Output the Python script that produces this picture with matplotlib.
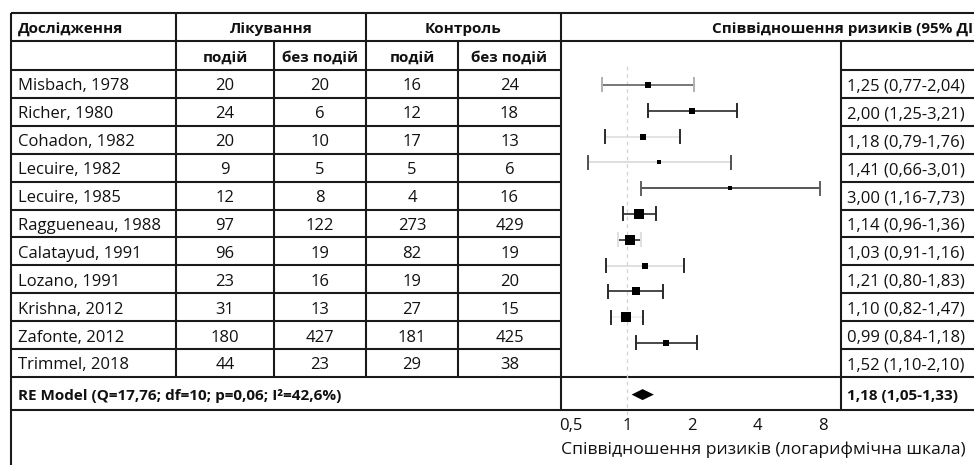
import matplotlib
matplotlib.use("Agg")
import matplotlib.pyplot as plt
import matplotlib.transforms as mtransforms
import numpy as np

# ---------------- data ----------------
studies = ["Misbach, 1978", "Richer, 1980", "Cohadon, 1982", "Lecuire, 1982",
           "Lecuire, 1985", "Raggueneau, 1988", "Calatayud, 1991", "Lozano, 1991",
           "Krishna, 2012", "Zafonte, 2012", "Trimmel, 2018"]
treat_events = [20, 24, 20, 9, 12, 97, 96, 23, 31, 180, 44]
treat_none = [20, 6, 10, 5, 8, 122, 19, 16, 13, 427, 23]
ctrl_events = [16, 12, 17, 5, 4, 273, 82, 19, 27, 181, 29]
ctrl_none = [24, 18, 13, 6, 16, 429, 19, 20, 15, 425, 38]
rr = [1.25, 2.00, 1.18, 1.41, 3.00, 1.14, 1.03, 1.21, 1.10, 0.99, 1.52]
rr_lo = [0.77, 1.25, 0.79, 0.66, 1.16, 0.96, 0.91, 0.80, 0.82, 0.84, 1.10]
rr_hi = [2.04, 3.21, 1.76, 3.01, 7.73, 1.36, 1.16, 1.83, 1.47, 1.18, 2.10]
weights = [4.3, 4.6, 6.0, 2.0, 1.3, 17.5, 22.5, 5.8, 9.7, 17.8, 8.4]
re_rr, re_lo, re_hi = 1.18, 1.05, 1.33
re_label = "RE Model (Q=17,76; df=10; p=0,06; I²=42,6%)"
x_ticks = [0.5, 1, 2, 4, 8]
x_ticklabels = ["0,5", "1", "2", "4", "8"]
x_label = "Співвідношення ризиків (логарифмічна шкала)"
hdr_study = "Дослідження"
hdr_treat = "Лікування"
hdr_ctrl = "Контроль"
hdr_rr = "Співвідношення ризиків (95% ДІ)"
hdr_events = "подій"
hdr_none = "без подій"

# ---------------- style ----------------
plt.rcParams['font.family'] = ['Open Sans', 'DejaVu Sans']
FS = 12
FSB = 11
TXT = '#111111'
LINE = '#1a1a1a'
LW = 1.5
ci_colors = ['#606060', '#2a2a2a', '#dedede', '#d8d8d8', '#3a3a3a', '#2a2a2a',
             '#2a2a2a', '#dadada', '#2a2a2a', '#eeeeee', '#2a2a2a']
cap_colors = ['#b0b0b0', '#2a2a2a', '#2a2a2a', '#505050', '#606060', '#2a2a2a',
              '#e0e0e0', '#2a2a2a', '#2a2a2a', '#2a2a2a', '#2a2a2a']

W, H = 974, 465
fig = plt.figure(figsize=(W / 100, H / 100), dpi=100)
bg = fig.add_axes([0, 0, 1, 1])
bg.set_xlim(0, W)
bg.set_ylim(H, 0)
bg.axis('off')

col_x = [11, 176, 274, 366, 458, 561, 841, 1129]
y_top, y_h1, y_h2 = 13, 41, 70
row_h = 27.9
n = len(studies)
y_data_bot = y_h2 + n * row_h
y_re_bot = 410

def hl(y, x0, x1):
    bg.plot([x0, x1], [y, y], color=LINE, lw=LW, solid_capstyle='butt')

def vl(x, y0, y1):
    bg.plot([x, x], [y0, y1], color=LINE, lw=LW, solid_capstyle='butt')

hl(y_top, col_x[0], col_x[-1])
hl(y_h1, col_x[0], col_x[-1])
for i in range(n):
    y = y_h2 + i * row_h
    hl(y, col_x[0], col_x[5])
    hl(y, col_x[6], col_x[-1])
hl(y_data_bot, col_x[0], col_x[-1])
hl(y_re_bot, col_x[0], col_x[-1])
vl(col_x[0], y_top, H)
vl(col_x[1], y_top, y_data_bot)
vl(col_x[2], y_h1, y_data_bot)
vl(col_x[3], y_top, y_data_bot)
vl(col_x[4], y_h1, y_data_bot)
vl(col_x[5], y_top, y_re_bot)
vl(col_x[6], y_h1, y_re_bot)

BOFF = 6.5  # baseline offset from row centre

def cell_text(x, yc, s, ha='center', bold=False):
    bg.text(x, yc + BOFF, s, ha=ha, va='baseline', fontsize=FSB if bold else FS, color=TXT,
            fontweight='bold' if bold else 'normal', clip_on=True)

def mid(a, b):
    return (a + b) / 2

pad = 7
# header row 1
yc = mid(y_top, y_h1)
cell_text(col_x[0] + pad, yc, hdr_study, ha='left', bold=True)
cell_text(mid(col_x[1], col_x[3]), yc, hdr_treat, bold=True)
cell_text(mid(col_x[3], col_x[5]), yc, hdr_ctrl, bold=True)
cell_text(mid(col_x[5], col_x[7]), yc, hdr_rr, bold=True)
# header row 2
yc = mid(y_h1, y_h2)
for k, s in enumerate([hdr_events, hdr_none, hdr_events, hdr_none]):
    cell_text(mid(col_x[1 + k], col_x[2 + k]), yc, s, bold=True)

def fmt(v):
    return f"{v:.2f}".replace('.', ',')

for i in range(n):
    yc = y_h2 + (i + 0.5) * row_h
    cell_text(col_x[0] + pad, yc, studies[i], ha='left')
    for k, arr in enumerate([treat_events, treat_none, ctrl_events, ctrl_none]):
        cell_text(mid(col_x[1 + k], col_x[2 + k]), yc, str(arr[i]))
    cell_text(col_x[6] + 6, yc, f"{fmt(rr[i])} ({fmt(rr_lo[i])}-{fmt(rr_hi[i])})", ha='left')

yc = mid(y_data_bot, y_re_bot)
cell_text(col_x[0] + pad, yc, re_label, ha='left', bold=True)
cell_text(col_x[6] + 6, yc, f"{fmt(re_rr)} ({fmt(re_lo)}-{fmt(re_hi)})", ha='left', bold=True)

# ---------------- forest plot ----------------
x_one = 627.0      # pixel of RR = 1
px_per_doubling = 65.3
y_first, px_per_row = 85.0, 25.8
ax_top, ax_bot = 63, 415
ax = fig.add_axes([col_x[5] / W, 1 - ax_bot / H, (col_x[6] - col_x[5]) / W, (ax_bot - ax_top) / H])
ax.patch.set_visible(False)
ax.set_xscale('log', base=2)
ax.set_xlim(2 ** ((col_x[5] - x_one) / px_per_doubling), 2 ** ((col_x[6] - x_one) / px_per_doubling))
ax.set_ylim(n - (ax_bot - y_first) / px_per_row, n + (y_first - ax_top) / px_per_row)
for s in ax.spines.values():
    s.set_visible(False)
ax.xaxis.set_minor_locator(matplotlib.ticker.NullLocator())
ax.set_xticks(x_ticks)
ax.set_xticklabels(x_ticklabels, fontsize=FS, color=TXT)
ax.tick_params(axis='x', length=0, pad=2.5)
first = ax.get_xticklabels()[0]
first.set_ha('left')
first.set_transform(first.get_transform() + mtransforms.ScaledTranslation(-3 / 100, 0, fig.dpi_scale_trans))
ax.set_yticks([])
ax.set_xlabel(x_label, loc='left', fontsize=12.6, color=TXT, labelpad=5)

ax.axvline(1, color='#d2d2d2', lw=0.9, ls=(0, (3, 3)), zorder=1)

cap = 6.5 / px_per_row
for i in range(n):
    y = n - i
    ax.plot([rr_lo[i], rr_hi[i]], [y, y], color=ci_colors[i], lw=1.2, zorder=2)
    for xv in (rr_lo[i], rr_hi[i]):
        ax.plot([xv, xv], [y - cap, y + cap], color=cap_colors[i], lw=1.4, zorder=2)
    size_px = 2 + 1.7 * np.sqrt(weights[i])
    ax.plot([rr[i]], [y], marker='s', ms=size_px * 0.72, color='black', mec='black', mew=0, zorder=3)

dh = 5.5 / px_per_row
ax.fill([re_lo, re_rr, re_hi, re_rr], [-1, -1 + dh, -1, -1 - dh], color='black', zorder=3, lw=0)

fig.savefig('out.png', dpi=100)
